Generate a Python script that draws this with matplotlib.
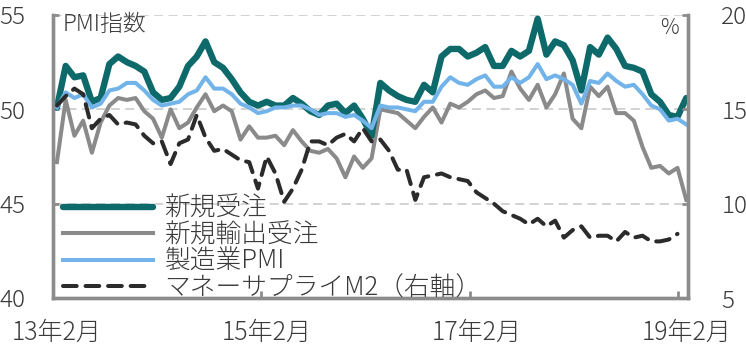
import matplotlib
matplotlib.use("Agg")
from matplotlib import pyplot as plt

plt.rcParams['font.family'] = ['Noto Sans CJK JP', 'DejaVu Sans']
plt.rcParams['font.weight'] = 'light'

# monthly, 2013/02 .. 2019/02
new_orders = [50.1, 52.3, 51.7, 51.8, 50.4, 50.6, 52.4, 52.8, 52.5, 52.3, 52.0,
              50.9, 50.5, 50.6, 51.2, 52.3, 52.8, 53.6, 52.5, 52.2, 51.6, 50.9, 50.4,
              50.2, 50.4, 50.2, 50.2, 50.6, 50.3, 49.9, 49.7, 50.2, 50.3, 49.8, 50.2,
              49.5, 48.6, 51.4, 51.0, 50.7, 50.5, 50.4, 51.3, 50.9, 52.8, 53.2, 53.2,
              52.8, 53.0, 53.3, 52.3, 52.3, 53.1, 52.8, 53.1, 54.8, 52.9, 53.6, 53.4,
              52.6, 51.0, 53.3, 52.9, 53.8, 53.2, 52.3, 52.2, 52.0, 50.8, 50.4, 49.7,
              49.6, 50.6]
export_orders = [47.2, 50.5, 48.6, 49.4, 47.7, 49.3, 50.2, 50.6, 50.5, 50.6, 49.9,
                 49.5, 48.5, 50.0, 49.0, 49.3, 50.1, 50.8, 49.9, 50.2, 49.9, 48.4, 49.1,
                 48.5, 48.5, 48.6, 48.1, 48.9, 48.3, 47.8, 47.7, 47.9, 47.4, 46.4, 47.5,
                 46.9, 47.4, 50.0, 49.9, 49.8, 49.4, 49.0, 49.6, 50.1, 49.3, 50.3, 50.1,
                 50.4, 50.8, 51.0, 50.6, 50.7, 52.0, 51.1, 50.5, 51.3, 50.1, 50.8, 51.9,
                 49.5, 49.0, 51.2, 50.7, 51.2, 49.8, 49.8, 49.4, 48.0, 46.9, 47.0, 46.6,
                 46.9, 45.2]
pmi = [50.1, 50.9, 50.6, 50.8, 50.1, 50.3, 51.0, 51.1, 51.4, 51.4, 51.0,
       50.5, 50.2, 50.3, 50.4, 50.8, 51.0, 51.7, 51.1, 51.1, 50.8, 50.3, 50.1,
       49.8, 49.9, 50.1, 50.1, 50.2, 50.2, 50.0, 49.7, 49.8, 49.8, 49.6, 49.7,
       49.4, 49.0, 50.2, 50.1, 50.1, 50.0, 49.9, 50.4, 50.4, 51.2, 51.7, 51.4,
       51.3, 51.6, 51.8, 51.2, 51.2, 51.7, 51.4, 51.7, 52.4, 51.6, 51.8, 51.6,
       51.3, 50.3, 51.5, 51.4, 51.9, 51.5, 51.2, 51.3, 50.8, 50.2, 50.0, 49.4,
       49.5, 49.2]
# 2013/02 .. 2019/01
m2 = [15.2, 15.7, 16.1, 15.8, 14.0, 14.5, 14.7, 14.2, 14.3, 14.2, 13.6,
      13.2, 13.3, 12.1, 13.2, 13.4, 14.7, 13.5, 12.8, 12.9, 12.6, 12.3, 12.2,
      10.8, 12.5, 11.6, 10.1, 10.8, 11.8, 13.3, 13.3, 13.1, 13.5, 13.7, 13.3,
      14.0, 13.3, 13.4, 12.8, 11.8, 11.8, 10.2, 11.4, 11.5, 11.6, 11.4, 11.3,
      11.2, 10.6, 10.3, 10.0, 9.6, 9.4, 9.2, 8.9, 9.2, 8.8, 9.1, 8.2,
      8.6, 8.8, 8.2, 8.3, 8.3, 8.0, 8.5, 8.2, 8.3, 8.0, 8.0, 8.1,
      8.4]
tick_labels = ["13年2月", "15年2月", "17年2月", "19年2月"]
labels = ["新規受注", "新規輸出受注", "製造業PMI", "マネーサプライM2（右軸）"]

txt = "#3a3a3a"
axc = "#8c8c8c"

fig = plt.figure(figsize=(7.46, 3.48), dpi=100)
ax = fig.add_axes([53/746, 1-298/348, 635/746, 283/348])
ax2 = ax.twinx()

x = list(range(len(pmi)))
l1, = ax.plot(x, new_orders, color="#0e6a6a", lw=4.6, solid_joinstyle="round", solid_capstyle="round", zorder=3)
l2, = ax.plot(x, export_orders, color="#8a8a8a", lw=2.9, solid_joinstyle="round", zorder=2)
l3, = ax.plot(x, pmi, color="#72b4ea", lw=2.9, solid_joinstyle="round", zorder=4)
l4, = ax2.plot(range(len(m2)), m2, color="#2b2b2b", lw=2.9, dashes=(3.4, 2.2), dash_capstyle="round")

ax.set_xlim(-0.45, 72.2)
ax.set_ylim(40, 55)
ax2.set_ylim(5, 20)
ax.set_yticks([40, 45, 50, 55])
ax2.set_yticks([5, 10, 15, 20])
for v in [45, 50, 55]:
    ax.axhline(v, color="#cfcfcf", lw=1.3, dashes=(5, 3), zorder=1)

ax.set_xticks([0, 24, 48, 72])
ax.set_xticklabels(tick_labels)
ax.set_xticks([23.3, 47.3, 71.1], minor=True)
ax.tick_params(axis="x", which="major", length=0, pad=15, labelsize=18, labelcolor=txt)
ax.tick_params(axis="x", which="minor", direction="in", length=5, width=2, color=axc)
ax.tick_params(axis="y", direction="in", length=4, width=2, color=axc, pad=20, labelsize=17.5, labelcolor=txt)
ax2.tick_params(axis="y", direction="in", length=4, width=2, color=axc, pad=24, labelsize=17.5, labelcolor=txt)
for lab in ax2.get_yticklabels():
    lab.set_horizontalalignment("left")

for a in (ax, ax2):
    a.spines["top"].set_visible(False)
    for s in ("left", "right", "bottom"):
        a.spines[s].set_color(axc)
        a.spines[s].set_linewidth(2.4)

ax.text(0.015, 0.965, "PMI指数", transform=ax.transAxes, fontsize=16.5, color=txt, va="center", ha="left")
ax.text(0.985, 0.955, "%", transform=ax.transAxes, fontsize=15, color=txt, va="center", ha="right")

leg = ax2.legend([l1, l2, l3, l4], labels, loc="center left", bbox_to_anchor=(10/635, 0.176),
                 frameon=False, fontsize=18.5, handlelength=3.5, handletextpad=0.45,
                 labelspacing=0.0, borderpad=0, borderaxespad=0)
for t in leg.get_texts():
    t.set_color(txt)

fig.savefig("out.png", dpi=100)
